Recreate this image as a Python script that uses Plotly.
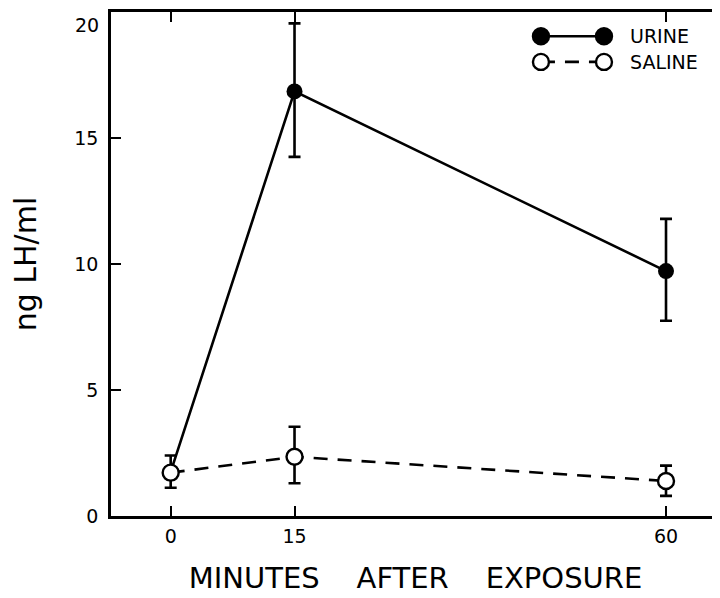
import plotly.graph_objects as go

minutes = [0, 15, 60]
urine = [1.75, 16.85, 9.72]
urine_err_plus = [0.0, 2.7, 2.07]
urine_err_minus = [0.0, 2.6, 1.97]
saline = [1.72, 2.35, 1.39]
saline_err_plus = [0.68, 1.19, 0.61]
saline_err_minus = [0.6, 1.05, 0.59]
x_ticks = [0, 15, 60]
y_ticks = [0, 5, 10, 15, 20]

FONT = "DejaVu Sans"
fig = go.Figure()

fig.add_trace(go.Scatter(
    x=minutes, y=urine, mode="lines+markers", name="URINE",
    line=dict(color="black", width=2.6),
    marker=dict(symbol="circle", size=16, color="black"),
    error_y=dict(type="data", array=urine_err_plus, arrayminus=urine_err_minus,
                 symmetric=False, color="black", thickness=2.6, width=6),
))
fig.add_trace(go.Scatter(
    x=minutes, y=saline, mode="lines+markers", name="SALINE",
    line=dict(color="black", width=2.6, dash="14px,10px"),
    marker=dict(symbol="circle", size=16, color="white",
                line=dict(color="black", width=2.4)),
    error_y=dict(type="data", array=saline_err_plus, arrayminus=saline_err_minus,
                 symmetric=False, color="black", thickness=2.6, width=6),
))
# invisible trace to drive the right-side tick marks
fig.add_trace(go.Scatter(x=[None], y=[None], yaxis="y2", showlegend=False))

# manual legend (marker - line - marker)
shapes = []
def circ(xp, yp, filled):
    return dict(type="circle", xref="paper", yref="paper",
                xsizemode="pixel", ysizemode="pixel",
                xanchor=xp, yanchor=yp, x0=-8, x1=8, y0=-8, y1=8,
                fillcolor="black" if filled else "white",
                line=dict(color="black", width=2.4))
row1, row2 = 0.952, 0.901
xa, xb = 0.706, 0.8095
shapes.append(dict(type="line", xref="paper", yref="paper", x0=xa, x1=xb, y0=row1, y1=row1,
                   line=dict(color="black", width=2.6)))
shapes.append(dict(type="line", xref="paper", yref="paper", x0=xa, x1=xb, y0=row2, y1=row2,
                   line=dict(color="black", width=2.6, dash="14px,10px")))
shapes += [circ(xa, row1, True), circ(xb, row1, True), circ(xa, row2, False), circ(xb, row2, False)]

annotations = [
    dict(text="URINE", x=0.849, y=row1, xref="paper", yref="paper", xanchor="left",
         yanchor="middle", showarrow=False, font=dict(family=FONT, size=19, color="black")),
    dict(text="SALINE", x=0.849, y=row2, xref="paper", yref="paper", xanchor="left",
         yanchor="middle", showarrow=False, font=dict(family=FONT, size=19, color="black")),
    # top y tick label sits a little below its tick in the original
    dict(text=str(y_ticks[-1]), x=0, xref="paper", y=y_ticks[-1], yref="y",
         xanchor="right", yanchor="middle", xshift=-10, yshift=-13, showarrow=False,
         font=dict(family=FONT, size=19, color="black")),
]

ytext = [str(v) for v in y_ticks[:-1]] + [""]

NB = "\u00a0" * 4
fig.update_layout(
    width=712, height=590,
    margin=dict(l=103, r=0, t=4, b=82, autoexpand=False),
    paper_bgcolor="white", plot_bgcolor="white",
    showlegend=False,
    shapes=shapes, annotations=annotations,
    font=dict(family=FONT, color="black"),
    xaxis=dict(
        range=[-7.23, 66.54], tickvals=x_ticks, ticktext=[str(v) for v in x_ticks],
        ticks="inside", ticklen=10, tickwidth=2.4, tickcolor="black",
        showline=True, linecolor="black", linewidth=2.6, mirror="ticks",
        showgrid=False, zeroline=False, automargin=False,
        tickfont=dict(family=FONT, size=19), ticklabelstandoff=1,
        title=dict(text="MINUTES" + NB + "AFTER" + NB + "EXPOSURE",
                   font=dict(family=FONT, size=29), standoff=23),
    ),
    yaxis=dict(
        range=[0, 20], tickvals=y_ticks, ticktext=ytext,
        ticks="inside", ticklen=10, tickwidth=2.4, tickcolor="black",
        showline=True, linecolor="black", linewidth=2.6, mirror=False,
        showgrid=False, zeroline=False, automargin=False,
        tickfont=dict(family=FONT, size=19), ticklabelstandoff=6,
        title=dict(text="ng LH/ml", font=dict(family=FONT, size=30), standoff=42),
    ),
    yaxis2=dict(
        overlaying="y", side="right", anchor="x", matches="y", range=[0, 20],
        tickvals=y_ticks, ticks="inside", ticklen=6, tickwidth=2.4, tickcolor="black",
        showticklabels=False, showline=False, showgrid=False, zeroline=False,
        automargin=False,
    ),
)

fig.write_html("out.html")
